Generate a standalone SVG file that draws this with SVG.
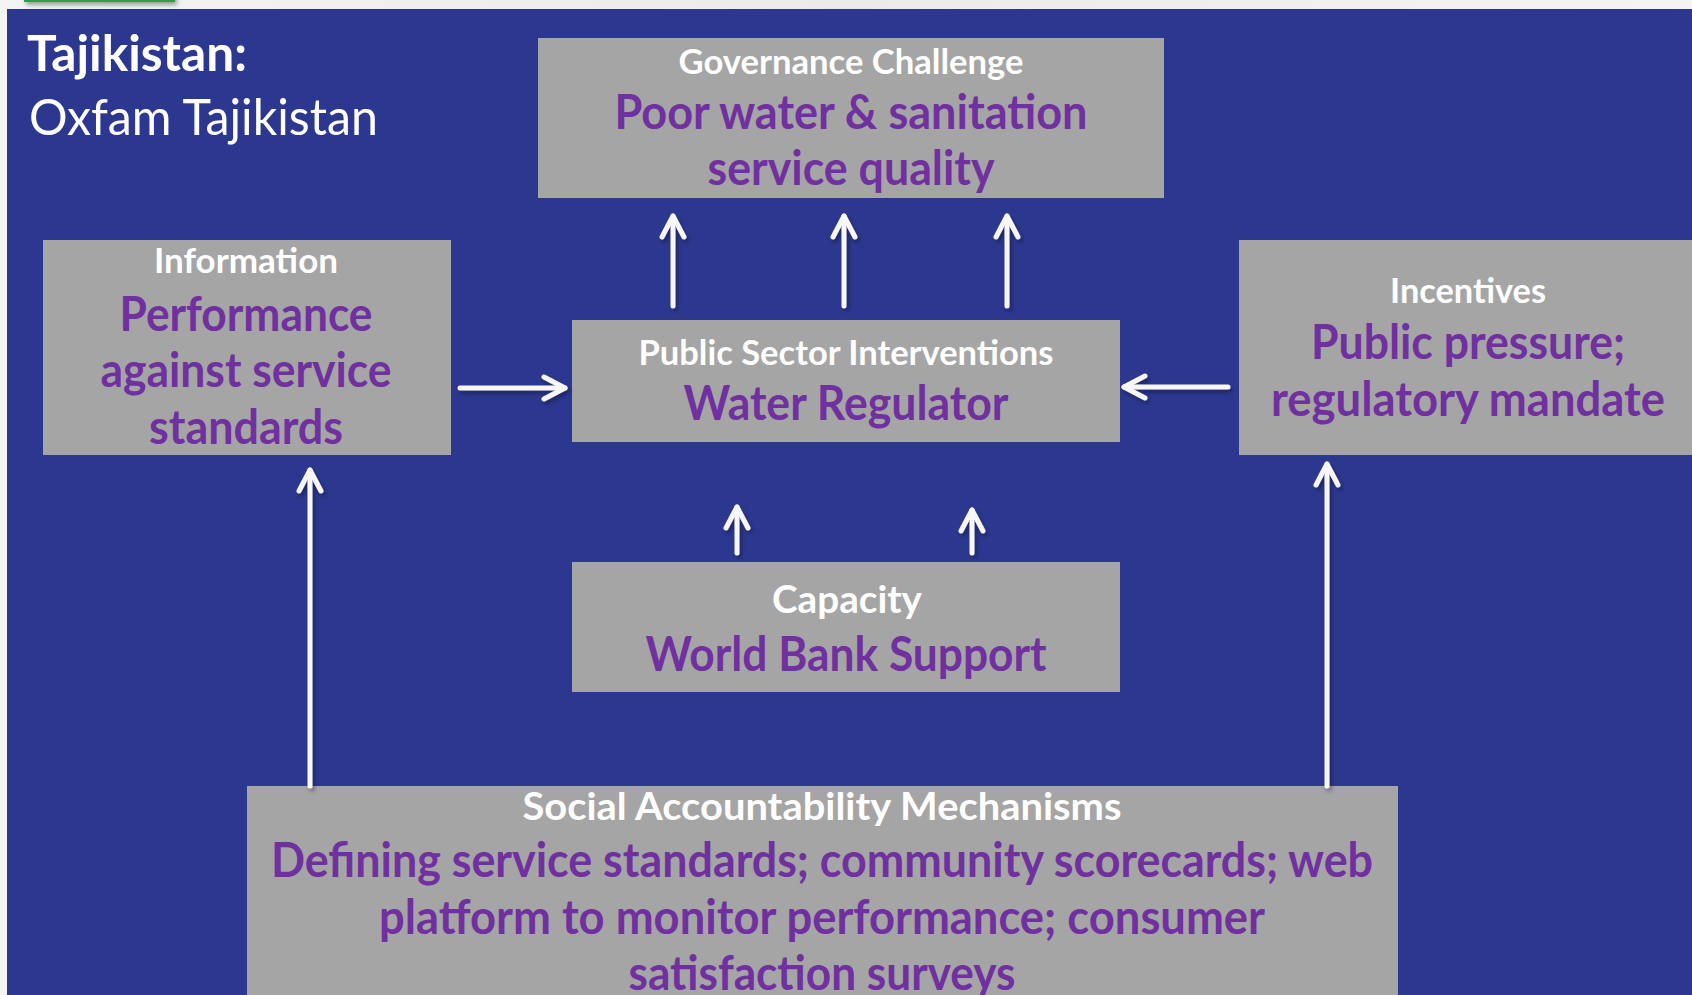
<svg xmlns="http://www.w3.org/2000/svg" width="1692" height="995" viewBox="0 0 1692 995">
<style>
.box{fill:#a5a5a5}
.hd{font-family:Lato,"Liberation Sans",sans-serif;font-weight:bold;fill:#ffffff;text-anchor:middle}
.pt{font-family:Lato,"Liberation Sans",sans-serif;font-weight:bold;fill:#7030a0;text-anchor:middle}
.arr{fill:none;stroke:#f7f7f7;stroke-width:5;stroke-linecap:round;stroke-linejoin:round}
</style>
<defs>
<marker id="ah" viewBox="-26 -15 30 30" refX="0" refY="0" markerWidth="30" markerHeight="30" markerUnits="userSpaceOnUse" orient="auto">
<path d="M-21,-11 L0,0 L-21,11" fill="none" stroke="#f7f7f7" stroke-width="5" stroke-linecap="round" stroke-linejoin="round"/>
</marker>
<filter id="sh" x="-50%" y="-50%" width="200%" height="200%">
<feDropShadow dx="2" dy="3" stdDeviation="2" flood-color="#000" flood-opacity="0.35"/>
</filter>
<linearGradient id="top" x1="0" y1="0" x2="1" y2="0">
<stop offset="0" stop-color="#f4f4f4"/><stop offset="0.5" stop-color="#ebebeb"/><stop offset="1" stop-color="#f4f4f4"/>
</linearGradient>
</defs>
<rect x="0" y="0" width="1692" height="995" fill="url(#top)"/>
<rect x="25" y="-20" width="149" height="21" fill="#f2f2f2" stroke="#2e9e4a" stroke-width="2" filter="url(#sh)"/>
<rect x="7" y="9" width="1685" height="986" fill="#2c388f"/>
<g id="title">
<text x="27" y="71" font-family="Lato,'Liberation Sans',sans-serif" font-weight="bold" font-size="50" fill="#fff" textLength="220" lengthAdjust="spacingAndGlyphs">Tajikistan:</text>
<text x="29" y="135" font-family="Lato,'Liberation Sans',sans-serif" font-size="50" fill="#fff" textLength="349" lengthAdjust="spacingAndGlyphs">Oxfam Tajikistan</text>
</g>
<g id="governance">
<rect class="box" x="538" y="38" width="626" height="160"/>
<text class="hd" x="851" y="74" font-size="35" textLength="345" lengthAdjust="spacingAndGlyphs">Governance Challenge</text>
<text class="pt" x="851" y="129" font-size="47" textLength="473" lengthAdjust="spacingAndGlyphs">Poor water &amp; sanitation</text>
<text class="pt" x="851" y="185" font-size="47" textLength="287" lengthAdjust="spacingAndGlyphs">service quality</text>
</g>
<g id="information">
<rect class="box" x="43" y="240" width="408" height="215"/>
<text class="hd" x="246" y="273" font-size="35" textLength="184" lengthAdjust="spacingAndGlyphs">Information</text>
<text class="pt" x="246" y="331" font-size="47" textLength="253" lengthAdjust="spacingAndGlyphs">Performance</text>
<text class="pt" x="246" y="387" font-size="47" textLength="291" lengthAdjust="spacingAndGlyphs">against service</text>
<text class="pt" x="246" y="444" font-size="47" textLength="194" lengthAdjust="spacingAndGlyphs">standards</text>
</g>
<g id="public-sector">
<rect class="box" x="572" y="320" width="548" height="122"/>
<text class="hd" x="846" y="365" font-size="35" textLength="415" lengthAdjust="spacingAndGlyphs">Public Sector Interventions</text>
<text class="pt" x="846" y="420" font-size="47" textLength="325" lengthAdjust="spacingAndGlyphs">Water Regulator</text>
</g>
<g id="incentives">
<rect class="box" x="1239" y="240" width="460" height="215"/>
<text class="hd" x="1468" y="303" font-size="35" textLength="156" lengthAdjust="spacingAndGlyphs">Incentives</text>
<text class="pt" x="1468" y="359" font-size="47" textLength="314" lengthAdjust="spacingAndGlyphs">Public pressure;</text>
<text class="pt" x="1468" y="416" font-size="47" textLength="394" lengthAdjust="spacingAndGlyphs">regulatory mandate</text>
</g>
<g id="capacity">
<rect class="box" x="572" y="562" width="548" height="130"/>
<text class="hd" x="847" y="613" font-size="38" textLength="150" lengthAdjust="spacingAndGlyphs">Capacity</text>
<text class="pt" x="846" y="671" font-size="47" textLength="401" lengthAdjust="spacingAndGlyphs">World Bank Support</text>
</g>
<g id="social">
<rect class="box" x="247" y="786" width="1151" height="220"/>
<text class="hd" x="822" y="820" font-size="38" textLength="599" lengthAdjust="spacingAndGlyphs">Social Accountability Mechanisms</text>
<text class="pt" x="822" y="877" font-size="47" textLength="1102" lengthAdjust="spacingAndGlyphs">Defining service standards; community scorecards; web</text>
<text class="pt" x="822" y="934" font-size="47" textLength="886" lengthAdjust="spacingAndGlyphs">platform to monitor performance; consumer</text>
<text class="pt" x="822" y="990" font-size="47" textLength="387" lengthAdjust="spacingAndGlyphs">satisfaction surveys</text>
</g>
<g id="connectors" filter="url(#sh)">
<path class="arr" d="M673,306 V216" marker-end="url(#ah)"/>
<path class="arr" d="M844,306 V216" marker-end="url(#ah)"/>
<path class="arr" d="M1007,306 V216" marker-end="url(#ah)"/>
<path class="arr" d="M460,388 H565" marker-end="url(#ah)"/>
<path class="arr" d="M1228,387 H1124" marker-end="url(#ah)"/>
<path class="arr" d="M737,553 V507" marker-end="url(#ah)"/>
<path class="arr" d="M972,553 V510" marker-end="url(#ah)"/>
<path class="arr" d="M310,786 V470" marker-end="url(#ah)"/>
<path class="arr" d="M1327,786 V464" marker-end="url(#ah)"/>
</g>
</svg>
